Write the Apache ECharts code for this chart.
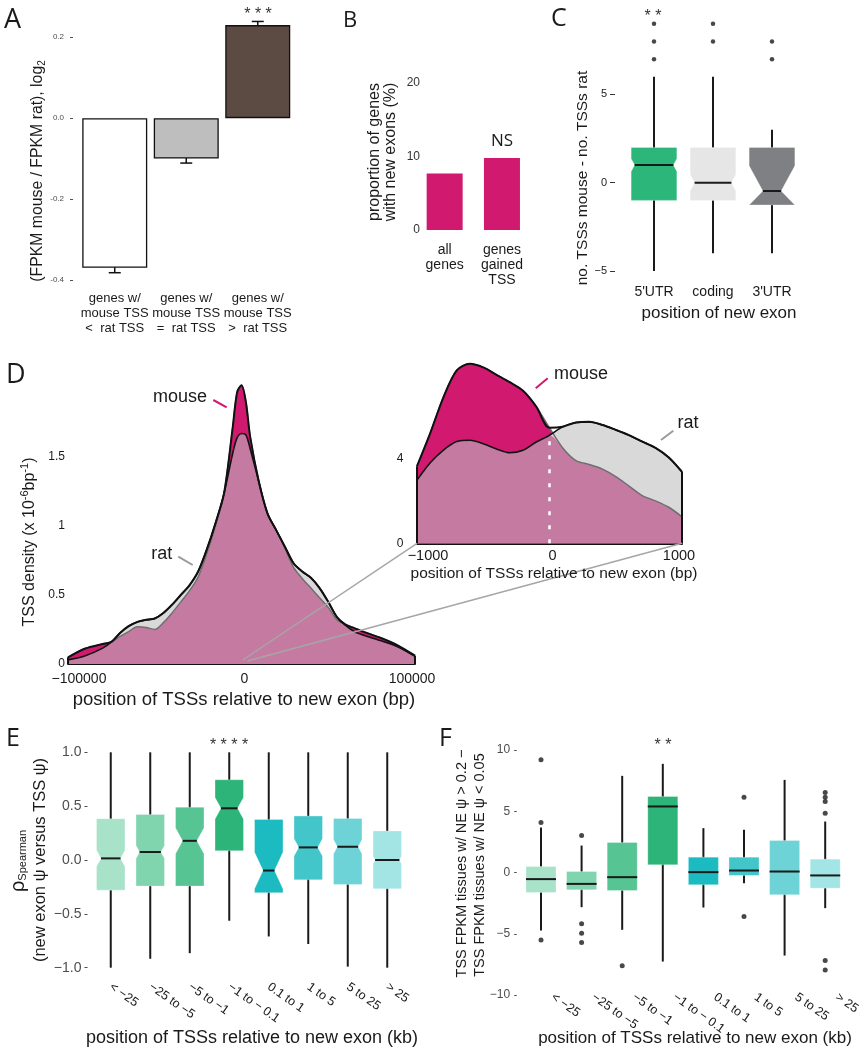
<!DOCTYPE html>
<html><head><meta charset="utf-8">
<script src="https://cdn.jsdelivr.net/npm/echarts@6/dist/echarts.min.js"></script>
<style>html,body{margin:0;padding:0;background:#fff}#c{width:862px;height:1050px}</style>
</head><body><div id="c"></div>
<script>
// ---------- DATA ----------
// Panel A
const aCats = ['genes w/\nmouse TSS\n<  rat TSS', 'genes w/\nmouse TSS\n=  rat TSS', 'genes w/\nmouse TSS\n>  rat TSS'];
const aValues = [-0.37, -0.10, 0.23];
const aErrors = [0.012, 0.011, 0.009];
const aTicks = [-0.4, -0.2, 0, 0.2];
// Panel B
const bCats = ['all\ngenes', 'genes\ngained\nTSS'];
const bValues = [7.7, 9.8];
// Panel C  [low whisker, Q1, median, Q3, high whisker, notch half-height]
const cCats = ["5'UTR", 'coding', "3'UTR"];
const cBoxes = [
  [-5, -1, 1, 2, 6, 0.36],
  [-4, -1, 0, 2, 6, 0.46],
  [-4, -1.26, -0.47, 2, 3, 1.43]
];
const cOutliers = [[0, 7], [0, 8], [0, 9], [1, 8], [1, 9], [2, 7], [2, 8]];
const cTicks = [-5, 0, 5];
// Panel D (main density)
const dX = [-100000, -90000, -80000, -75000, -70000, -65000, -60000, -55000, -50000, -45000, -40000, -35000, -30000, -25000, -20000, -15000, -10000, -5000, -2500, 0, 2500, 5000, 10000, 15000, 20000, 25000, 30000, 35000, 40000, 45000, 50000, 55000, 60000, 65000, 70000, 80000, 90000, 100000];
const dMouse = [0.048, 0.112, 0.145, 0.16, 0.20, 0.235, 0.27, 0.265, 0.25, 0.30, 0.37, 0.45, 0.53, 0.63, 0.80, 1.0, 1.24, 1.72, 1.97, 2.02, 1.90, 1.645, 1.32, 1.09, 0.97, 0.84, 0.70, 0.62, 0.55, 0.48, 0.41, 0.32, 0.285, 0.26, 0.235, 0.19, 0.135, 0.06];
const dRat   = [0.03, 0.06, 0.115, 0.16, 0.225, 0.275, 0.305, 0.32, 0.33, 0.37, 0.43, 0.50, 0.57, 0.67, 0.83, 1.02, 1.24, 1.53, 1.64, 1.67, 1.66, 1.56, 1.32, 1.09, 0.97, 0.85, 0.73, 0.67, 0.625, 0.55, 0.45, 0.34, 0.28, 0.235, 0.21, 0.17, 0.125, 0.055];
const dXTicks = [-100000, 0, 100000];
const dYTicks = [0, 0.5, 1, 1.5];
// Panel D (inset, -1000..1000 bp)
const iX = [-1000, -900, -800, -700, -600, -500, -400, -300, -200, -100, 0, 100, 200, 300, 400, 500, 600, 700, 800, 900, 1000];
const iMouse = [3.64, 5.2, 6.9, 8.16, 8.47, 8.3, 7.95, 7.6, 7.2, 6.45, 5.45, 4.5, 3.9, 3.72, 3.5, 3.15, 2.7, 2.25, 2.0, 1.7, 1.25];
const iRat   = [2.98, 3.8, 4.4, 4.8, 4.86, 4.7, 4.45, 4.27, 4.39, 4.78, 5.1, 5.5, 5.7, 5.73, 5.58, 5.35, 5.1, 4.8, 4.5, 4.05, 3.37];
const iXTicks = [-1000, 0, 1000];
const iYTicks = [0, 4];
// Panel E  [low whisker, Q1, median, Q3, high whisker, notch half-height]
const eCats = ['< \u221225', '\u221225 to \u22125', '\u22125 to \u22121', '\u22121 to \u2212 0.1', '0.1 to 1', '1 to 5', '5 to 25', '> 25'];
const eBoxes = [
  [-1.0, -0.28, 0.015, 0.383, 1.0, 0.075],
  [-0.917, -0.242, 0.074, 0.423, 1.0, 0.06],
  [-0.865, -0.242, 0.178, 0.49, 1.0, 0.12],
  [-0.564, 0.086, 0.48, 0.745, 1.0, 0.10],
  [-0.71, -0.304, -0.098, 0.377, 1.0, 0.17],
  [-0.78, -0.184, 0.117, 0.408, 1.0, 0.08],
  [-0.99, -0.227, 0.123, 0.386, 1.0, 0.065],
  [-1.0, -0.267, 0.0, 0.27, 1.0, 0.035]
];
// Panel F  [low whisker, Q1, median, Q3, high whisker]
const fCats = eCats;
const fBoxes = [
  [-4.73, -1.63, -0.54, 0.49, 3.67],
  [-2.83, -1.41, -0.93, 0.08, 2.2],
  [-4.68, -1.47, -0.38, 2.45, 7.89],
  [-7.27, 0.63, 5.39, 6.2, 8.87],
  [-2.86, -1.0, 0.03, 1.25, 3.62],
  [-0.87, -0.24, 0.16, 1.25, 3.48],
  [-6.78, -1.82, 0.08, 2.61, 7.56],
  [-2.91, -1.28, -0.24, 1.09, 4.16]
];
const fOutliers = [[0, 4.08], [0, 9.2], [0, -5.5], [1, 3.02], [1, -4.19], [1, -4.95], [1, -5.71], [2, -7.62], [5, 6.15], [5, -3.59], [7, 4.84], [7, 5.8], [7, 6.15], [7, 6.53], [7, -7.18], [7, -7.95]];

// ---------- STYLE ----------
const FONT = '"Liberation Sans", Arial, Helvetica, sans-serif';
const LFONT = '"Open Sans", "Liberation Sans", sans-serif';
const MAG = '#D0196F', LGRAY = '#D9D9D9', MAUVE = '#C57BA1';
const aColors = ['#FFFFFF', '#BEBEBE', '#5C4B43'];
const cColors = ['#2DB67A', '#E6E6E6', '#7F8084'];
const efColors = ['#A8E2C9', '#80D4AE', '#56C493', '#2CB479', '#1BBBC1', '#42C6CA', '#6ED3D6', '#A3E4E5'];

const chart = echarts.init(document.getElementById('c'));

const G = (left, top, width, height) => ({left, top, width, height, containLabel: false, outerBoundsMode: 'none'});
const grids = [
  G(79, 17, 214.5, 263),      // A
  G(416, 83, 114.6, 147),     // B
  G(624.5, 15, 177, 256),     // C
  G(68, 370, 347, 294),       // D main
  G(417, 361, 265, 182.3),    // D inset
  G(91, 752.3, 316, 215.4),   // E
  G(520.7, 750, 324.8, 245)   // F
];
const base = {splitLine: {show: false}, axisLine: {show: false}, axisTick: {show: false}};
const lab = (o) => Object.assign({fontFamily: FONT, color: '#1a1a1a'}, o);
const minus = v => (v < 0 ? '\u2212' + Math.abs(v) : String(v));
// shift ggplot-like labels: negative labels sit a bit right of their tick
const posLab = (size) => ({
  formatter: v => v < 0 ? '{n|' + minus(v) + '}' : (v > 0 ? '{p|' + v + '}' : '{z|0}'),
  rich: {
    n: {fontSize: size, fontFamily: FONT, color: '#1a1a1a', padding: [0, 0, 0, 22]},
    z: {fontSize: size, fontFamily: FONT, color: '#1a1a1a', padding: [0, 0, 0, 6]},
    p: {fontSize: size, fontFamily: FONT, color: '#1a1a1a', padding: [0, 6, 0, 0]}
  }
});

const xAxes = [
  {...base, type: 'category', gridIndex: 0, data: aCats, axisLabel: lab({fontSize: 13, lineHeight: 15, margin: 10.5, interval: 0})},
  {...base, type: 'category', gridIndex: 1, data: bCats, axisLabel: lab({fontSize: 14, lineHeight: 15, margin: 12.5, interval: 0})},
  {...base, type: 'category', gridIndex: 2, data: cCats, axisLabel: lab({fontSize: 14, margin: 14, interval: 0})},
  {...base, type: 'value', gridIndex: 3, min: dXTicks[0], max: dXTicks[2], interval: 100000,
    axisLine: {show: true, lineStyle: {color: '#111', width: 2}},
    axisLabel: lab({fontSize: 14, margin: 8, customValues: dXTicks, ...posLab(14)})},
  {...base, type: 'value', gridIndex: 4, min: iXTicks[0], max: iXTicks[2], interval: 1000,
    axisLine: {show: true, lineStyle: {color: '#111', width: 2}},
    axisLabel: lab({fontSize: 14.5, margin: 5, customValues: iXTicks, ...posLab(14.5)})},
  {...base, type: 'category', gridIndex: 5, data: eCats, axisLabel: lab({fontSize: 12.5, rotate: -35, margin: 18, interval: 0})},
  {...base, type: 'category', gridIndex: 6, data: fCats, axisLabel: lab({fontSize: 12.5, rotate: -35, margin: -7, padding: [0, 0, 0, 14], interval: 0})}
];
const tick = (len, color, vals) => ({show: true, length: len, lineStyle: {color, width: 1}, customValues: vals});
const yAxes = [
  {...base, type: 'value', gridIndex: 0, min: -0.4, max: 0.25, interval: 0.2, offset: 6, axisTick: tick(3, '#4D4D4D', aTicks),
    axisLabel: lab({fontSize: 8, margin: 9, color: '#4D4D4D', customValues: aTicks, formatter: v => v.toFixed(1)})},
  {...base, type: 'value', gridIndex: 1, min: 0, max: 20, interval: 10, axisLabel: lab({fontSize: 12, margin: -4, color: '#333'})},
  {...base, type: 'value', gridIndex: 2, min: -5, max: 9.5, interval: 5, offset: 9.5, axisTick: tick(5, '#333', cTicks),
    axisLabel: lab({fontSize: 11, margin: 8, customValues: cTicks, formatter: v => minus(v)})},
  {...base, type: 'value', gridIndex: 3, min: 0, max: 2.13, interval: 0.5, axisLabel: lab({fontSize: 12, margin: 3, customValues: dYTicks, formatter: v => String(v)})},
  {...base, type: 'value', gridIndex: 4, min: 0, max: 8.6, interval: 4, axisLabel: lab({fontSize: 12, margin: 13.5, customValues: iYTicks, formatter: v => String(v)})},
  {...base, type: 'value', gridIndex: 5, min: -1, max: 1, interval: 0.5, offset: 3.5, axisTick: tick(3, '#4D4D4D'),
    axisLabel: lab({fontSize: 14, margin: 6, color: '#4D4D4D', formatter: v => (v < 0 ? '\u2212' : '') + Math.abs(v).toFixed(1)})},
  {...base, type: 'value', gridIndex: 6, min: -10, max: 10, interval: 5, offset: 4, axisTick: tick(2.5, '#4D4D4D'),
    axisLabel: lab({fontSize: 12, margin: 6.5, color: '#4D4D4D', formatter: v => minus(v)})}
];

// box renderer (custom series)
function boxRenderer(widthFrac, colors, notched) {
  return function (params, api) {
    const i = api.value(0);
    const lo = api.value(1), q1 = api.value(2), md = api.value(3), q3 = api.value(4), hi = api.value(5);
    const nh = notched ? api.value(6) : 0;
    const bw = api.size([1, 0])[0] * widthFrac;
    const cx = api.coord([i, 0])[0];
    const y = v => api.coord([i, v])[1];
    const xl = cx - bw / 2, xr = cx + bw / 2;
    const ch = [];
    ch.push({type: 'line', shape: {x1: cx, y1: y(lo), x2: cx, y2: y(hi)}, style: {stroke: '#1a1a1a', lineWidth: 2}});
    let pts, ind = 0;
    if (nh > 0) {
      const nHi = Math.min(md + nh, q3), nLo = Math.max(md - nh, q1);
      ind = Math.min(0.55 * (y(md) - y(nHi)), 0.3 * bw);
      pts = [[xl, y(q3)], [xr, y(q3)], [xr, y(nHi)], [xr - ind, y(md)], [xr, y(nLo)], [xr, y(q1)],
             [xl, y(q1)], [xl, y(nLo)], [xl + ind, y(md)], [xl, y(nHi)]];
    } else {
      pts = [[xl, y(q3)], [xr, y(q3)], [xr, y(q1)], [xl, y(q1)]];
    }
    ch.push({type: 'polygon', shape: {points: pts}, style: {fill: colors[i], stroke: 'rgba(255,255,255,0.3)', lineWidth: 1}});
    ch.push({type: 'line', shape: {x1: xl + ind, y1: y(md), x2: xr - ind, y2: y(md)}, style: {stroke: '#1a1a1a', lineWidth: 2}});
    return {type: 'group', children: ch};
  };
}

function densitySeries(ai, xs, m, r) {
  const mn = m.map((v, i) => Math.min(v, r[i]));
  const mx = m.map((v, i) => Math.max(v, r[i]));
  const pair = arr => xs.map((x, i) => [x, arr[i]]);
  const b = {type: 'line', xAxisIndex: ai, yAxisIndex: ai, symbol: 'none', smooth: 0.3, silent: true};
  const last = xs.length - 1;
  return [
    {...b, data: pair(m), lineStyle: {opacity: 0}, areaStyle: {color: MAG, opacity: 1}},
    {...b, data: pair(r), lineStyle: {opacity: 0}, areaStyle: {color: LGRAY, opacity: 1}},
    {...b, data: pair(mn), lineStyle: {opacity: 0}, areaStyle: {color: MAUVE, opacity: 1}},
    {...b, data: pair(m), lineStyle: {width: 1.5, color: '#6f6f6f'}},
    {...b, data: pair(r), lineStyle: {width: 1.6, color: '#111'}},
    {...b, data: pair(mx), lineStyle: {width: 2, color: '#111'}},
    {...b, smooth: false, data: [[xs[0], 0], [xs[0], mx[0]]], lineStyle: {width: 2, color: '#111'}},
    {...b, smooth: false, data: [[xs[last], 0], [xs[last], mx[last]]], lineStyle: {width: 2, color: '#111'}}
  ];
}

const i0 = iX.indexOf(0);
const series = [
  {type: 'bar', xAxisIndex: 0, yAxisIndex: 0, barWidth: 65,
    data: aValues.map((v, i) => ({value: v, itemStyle: {color: aColors[i]}})),
    itemStyle: {borderColor: '#111', borderWidth: 1.3}},
  {type: 'custom', xAxisIndex: 0, yAxisIndex: 0, data: aValues.map((v, i) => [i, v - aErrors[i], v + aErrors[i]]),
    renderItem: (p, api) => {
      const x = api.coord([api.value(0), 0])[0];
      const y1 = api.coord([api.value(0), api.value(1)])[1];
      const y2 = api.coord([api.value(0), api.value(2)])[1];
      const st = {stroke: '#111', lineWidth: 1.5}, hw = 6;
      return {type: 'group', children: [
        {type: 'line', shape: {x1: x, y1: y1, x2: x, y2: y2}, style: st},
        {type: 'line', shape: {x1: x - hw, y1: y1, x2: x + hw, y2: y1}, style: st},
        {type: 'line', shape: {x1: x - hw, y1: y2, x2: x + hw, y2: y2}, style: st}]};
    }},
  {type: 'bar', xAxisIndex: 1, yAxisIndex: 1, barWidth: 36, data: bValues, itemStyle: {color: MAG}},
  {type: 'custom', xAxisIndex: 2, yAxisIndex: 2, data: cBoxes.map((b, i) => [i, ...b]), renderItem: boxRenderer(0.775, cColors, true)},
  {type: 'scatter', xAxisIndex: 2, yAxisIndex: 2, data: cOutliers, symbolSize: 4.5, itemStyle: {color: '#1a1a1a'}},
  ...densitySeries(3, dX, dMouse, dRat),
  ...densitySeries(4, iX, iMouse, iRat),
  {type: 'line', xAxisIndex: 4, yAxisIndex: 4, symbol: 'none', data: [[0, 0], [0, Math.min(iMouse[i0], iRat[i0])]],
    lineStyle: {color: '#fff', width: 2.5, type: [4, 10]}},
  {type: 'custom', xAxisIndex: 5, yAxisIndex: 5, data: eBoxes.map((b, i) => [i, ...b]), renderItem: boxRenderer(0.72, efColors, true)},
  {type: 'custom', xAxisIndex: 6, yAxisIndex: 6, data: fBoxes.map((b, i) => [i, ...b]), renderItem: boxRenderer(0.74, efColors, false)},
  {type: 'scatter', xAxisIndex: 6, yAxisIndex: 6, data: fOutliers, symbolSize: 5, itemStyle: {color: '#1a1a1a'}}
];

chart.setOption({animation: false, grid: grids, xAxis: xAxes, yAxis: yAxes, series});

// ---------- annotations ----------
function T(x, y, text, size, o = {}) {
  return {type: 'text', x, y, rotation: o.rot || 0, z: 100,
    style: {text, fontSize: size, fontFamily: o.font || FONT, fill: o.color || '#1a1a1a',
      align: o.align || 'center', verticalAlign: o.va || 'middle', lineHeight: o.lh, rich: o.rich}};
}
function L(x1, y1, x2, y2, color, w) {
  return {type: 'line', z: 90, shape: {x1, y1, x2, y2}, style: {stroke: color, lineWidth: w || 2}};
}
const R = Math.PI / 2;
const gfx = [
  T(4, 20, 'A', 27, {align: 'left', font: LFONT}),
  T(343, 21, 'B', 22, {align: 'left', font: LFONT}),
  T(551, 19, 'C', 25, {align: 'left', font: LFONT}),
  T(6, 375, 'D', 27, {align: 'left', font: LFONT}),
  T(6, 739, 'E', 25, {align: 'left', font: LFONT}),
  T(439, 739, 'F', 25, {align: 'left', font: LFONT}),
  T(258, 15, '* * *', 16, {color: '#333'}),
  T(653, 16.5, '* *', 16, {color: '#333'}),
  T(229, 746, '* * * *', 16, {color: '#333'}),
  T(663, 746, '* *', 16, {color: '#333'}),
  T(502, 141, 'NS', 17, {font: LFONT}),
  T(38, 171, '{n|(FPKM mouse / FPKM rat), log}{s|2}', 15.8, {rot: R,
    rich: {n: {fontSize: 15.8, fontFamily: FONT, fill: '#1a1a1a'}, s: {fontSize: 10, fontFamily: FONT, padding: [9, 0, 0, 0]}}}),
  T(383, 152, 'proportion of genes\nwith new exons (%)', 16, {rot: R, lh: 16}),
  T(583, 178, 'no. TSSs mouse - no. TSSs rat', 15.5, {rot: R}),
  T(719, 313, 'position of new exon', 17),
  T(30, 542, '{n|TSS density (x 10}{p|-6}{n|bp}{p|-1}{n|)}', 16, {rot: R,
    rich: {n: {fontSize: 16, fontFamily: FONT}, p: {fontSize: 11, fontFamily: FONT, padding: [0, 0, 10, 0]}}}),
  T(244, 700, 'position of TSSs relative to new exon (bp)', 18.5),
  T(554, 574, 'position of TSSs relative to new exon (bp)', 15.5),
  T(18, 861, '{r|\u03c1}{s|Spearman}', 19, {rot: R,
    rich: {r: {fontSize: 20, fontFamily: FONT}, s: {fontSize: 11, fontFamily: FONT, padding: [10, 0, 0, 0]}}}),
  T(40, 860, '(new exon \u03c8 versus TSS \u03c8)', 16.5, {rot: R}),
  T(252, 1038, 'position of TSSs relative to new exon (kb)', 18),
  T(462, 863.5, 'TSS FPKM tissues w/ NE \u03c8 > 0.2 \u2212', 14.5, {rot: R}),
  T(480, 865, 'TSS FPKM tissues w/ NE \u03c8 < 0.05', 14.5, {rot: R}),
  T(695, 1038, 'position of TSSs relative to new exon (kb)', 17),
  T(180, 397, 'mouse', 18),
  L(213.3, 400, 226.7, 407.3, MAG, 2),
  T(161.7, 554, 'rat', 18),
  L(178.3, 556.7, 192.7, 565, '#9a9a9a', 2),
  T(581, 374, 'mouse', 18),
  L(535.7, 388.3, 547.7, 378.3, MAG, 2),
  T(688, 422.7, 'rat', 18),
  L(661, 440, 673.3, 430.7, '#9a9a9a', 2)
];
// zoom connector lines from main density (around 0) to the inset corners
const a1 = chart.convertToPixel({gridIndex: 3}, [iX[0], 0]);
const a2 = chart.convertToPixel({gridIndex: 3}, [iX[iX.length - 1], 0]);
const b1 = chart.convertToPixel({gridIndex: 4}, [iX[0], 0]);
const b2 = chart.convertToPixel({gridIndex: 4}, [iX[iX.length - 1], 0]);
gfx.push(L(a1[0] + 3, a1[1] - 4, b1[0], b1[1], '#a6a6a6', 1.5));
gfx.push(L(a2[0] + 4, a2[1] - 3, b2[0], b2[1], '#a6a6a6', 1.5));
chart.setOption({graphic: gfx});
</script>
</body></html>
